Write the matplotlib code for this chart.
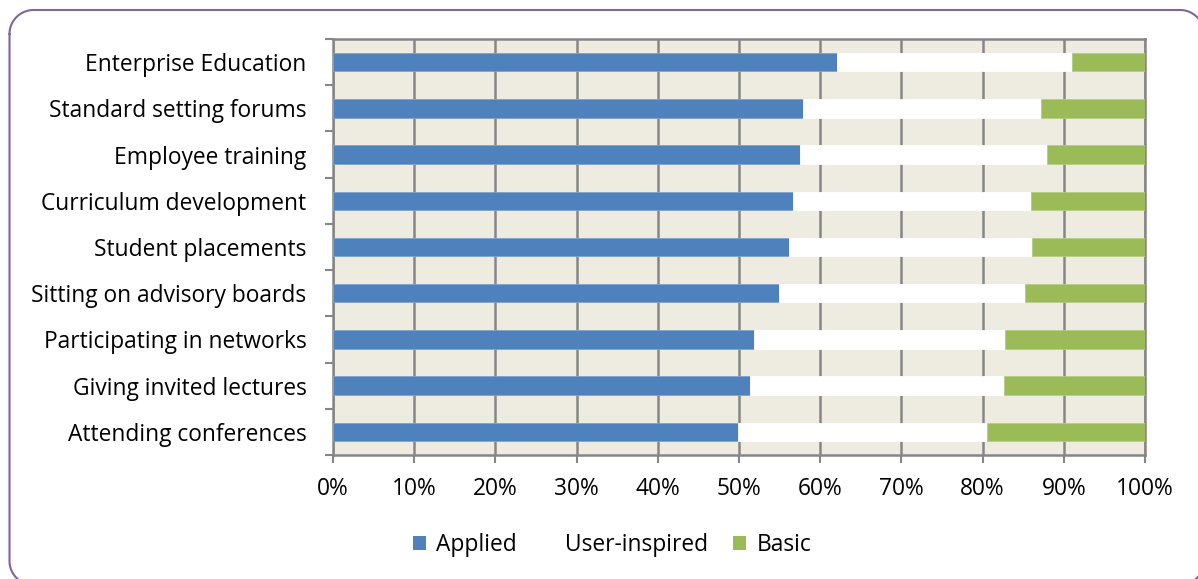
import matplotlib
matplotlib.use("Agg")
import matplotlib.pyplot as plt
from matplotlib.patches import Patch
import numpy as np

categories = ["Enterprise Education", "Standard setting forums", "Employee training",
              "Curriculum development", "Student placements", "Sitting on advisory boards",
              "Participating in networks", "Giving invited lectures", "Attending conferences"]
applied = [62.1, 57.9, 57.5, 56.7, 56.2, 54.9, 51.8, 51.4, 49.9]
user_inspired = [28.9, 29.3, 30.4, 29.2, 29.9, 30.3, 30.9, 31.2, 30.7]
basic = [9.0, 12.8, 12.1, 14.1, 13.9, 14.8, 17.3, 17.4, 19.4]
xticklabels = ["0%", "10%", "20%", "30%", "40%", "50%", "60%", "70%", "80%", "90%", "100%"]

plt.rcParams['font.family'] = ['Open Sans', 'DejaVu Sans']

W, H = 1198, 579
fig = plt.figure(figsize=(W / 100, H / 100), dpi=100)

# rounded border drawn in a full-figure pixel axes (decoration only)
bax = fig.add_axes([0, 0, 1, 1], zorder=-1)
bax.set_xlim(0, W)
bax.set_ylim(H, 0)
bax.axis("off")
x0, y0, x1, y1, r = 9.5, 10.0, 1204.0, 585.0, 24.0
def arc(cx, cy, a0, a1):
    t = np.linspace(np.radians(a0), np.radians(a1), 30)
    return cx + r * np.cos(t), cy - r * np.sin(t)
pts_x, pts_y = [], []
for (cx, cy, a0, a1) in [(x0 + r, y0 + r, 180, 90), (x1 - r, y0 + r, 90, 0),
                         (x1 - r, y1 - r, 0, -90), (x0 + r, y1 - r, -90, -180)]:
    ax_, ay_ = arc(cx, cy, a0, a1)
    pts_x.extend(ax_)
    pts_y.extend(ay_)
pts_x.append(pts_x[0])
pts_y.append(pts_y[0])
bax.plot(pts_x, pts_y, color="#8064A2", linewidth=1.5, solid_capstyle="round")

ax = fig.add_axes([333 / W, 1 - 455 / H, (1145 - 333) / W, (455 - 39) / H])
ax.set_facecolor("#EEEBE0")

n = len(categories)
y = np.arange(n)[::-1]
h = 0.40
a = np.array(applied)
u = np.array(user_inspired)
b = np.array(basic)
ax.barh(y, a, height=h, color="#4F81BD", edgecolor="#7FA3D0", linewidth=0.6, zorder=3)
ax.barh(y, u, left=a, height=h, color="#FFFFFF", edgecolor="#FFFFFF", linewidth=0.6, zorder=3)
ax.barh(y, b, left=a + u, height=h, color="#9BBB59", edgecolor="#B5CD85", linewidth=0.6, zorder=3)

fs = 16.4
ax.set_xlim(0, 100)
ax.set_ylim(-0.5, n - 0.5)
ax.set_xticks(np.arange(0, 101, 10))
ax.set_xticklabels(xticklabels, fontsize=fs)
ax.set_yticks(y)
ax.set_yticklabels(categories, fontsize=fs)
ax.tick_params(axis='y', length=0, pad=19)
ax.set_yticks(np.arange(-0.5, n, 1), minor=True)
ax.tick_params(axis='y', which='minor', length=6, width=1.5, color="#868686", direction='out')
ax.tick_params(axis='x', length=6, width=1.5, color="#868686", direction='out', pad=10)
ax.xaxis.grid(True, color="#868686", linewidth=1.8, zorder=1)
ax.set_axisbelow(True)
for s in ax.spines.values():
    s.set_color("#868686")
    s.set_linewidth(1.8)

handles = [Patch(facecolor="#4F81BD", edgecolor="none", label="Applied"),
           Patch(facecolor="#FFFFFF", edgecolor="none", label="User-inspired"),
           Patch(facecolor="#9BBB59", edgecolor="none", label="Basic")]
fig.legend(handles=handles, loc="center", bbox_to_anchor=(612 / W, 1 - 545 / H),
           ncol=3, frameon=False, fontsize=fs, handlelength=0.57, handleheight=0.57,
           handletextpad=0.45, columnspacing=1.1)

fig.savefig("out.png", dpi=100)
